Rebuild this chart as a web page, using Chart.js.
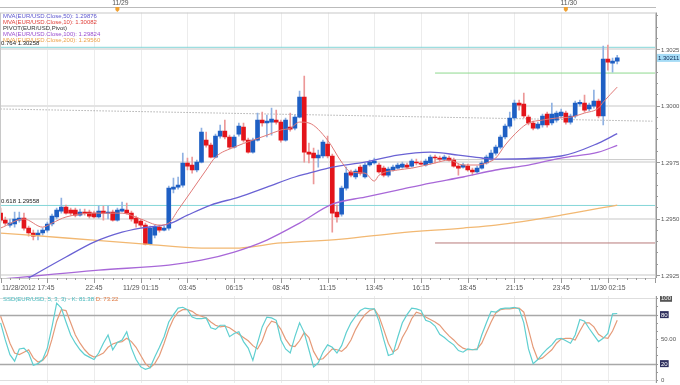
<!DOCTYPE html>
<html>
<head>
<meta charset="utf-8">
<script src="https://cdn.jsdelivr.net/npm/chart.js@4.4.0/dist/chart.umd.min.js"></script>
<style>
  html, body { margin: 0; padding: 0; background: #fff; }
  #wrap { position: relative; width: 680px; height: 385px; overflow: hidden; }
  .box { position: absolute; left: 0; width: 680px; }
</style>
</head>
<body>
<div id="wrap">
  <div class="box" style="top:0;height:296px"><canvas id="priceChart"></canvas></div>
  <div class="box" style="top:296px;height:89px"><canvas id="oscChart"></canvas></div>
</div>
<script>
// 15 minute EUR/USD candles, 11/28 17:45 -> 11/30 02:45
const opens = [1.29524,1.29493,1.29471,1.29476,1.29493,1.29502,1.29458,1.29436,1.29427,1.29436,
  1.29449,1.29476,1.29507,1.29533,1.29551,1.29538,1.29538,1.29515,1.29529,1.29529,
  1.29524,1.29507,1.29533,1.29524,1.29529,1.29493,1.29533,1.29538,1.29524,1.29502,
  1.29489,1.29471,1.29387,1.29427,1.29462,1.29449,1.29458,1.29630,1.29639,1.29648,
  1.29746,1.29737,1.29715,1.29750,1.29847,1.29825,1.29772,1.29865,1.29887,1.29861,
  1.29816,1.29874,1.29905,1.29847,1.29794,1.29847,1.29936,1.29923,1.29927,1.29936,
  1.29927,1.29847,1.29905,1.29900,1.29949,1.30038,1.29794,1.29790,1.29768,1.29777,
  1.29830,1.29777,1.29529,1.29520,1.29635,1.29706,1.29684,1.29728,1.29684,1.29737,
  1.29746,1.29737,1.29723,1.29692,1.29715,1.29723,1.29728,1.29737,1.29732,1.29750,
  1.29746,1.29737,1.29746,1.29772,1.29768,1.29763,1.29768,1.29759,1.29732,1.29728,
  1.29732,1.29715,1.29706,1.29723,1.29746,1.29763,1.29790,1.29816,1.29861,1.29909,
  1.29945,1.30011,1.30007,1.29949,1.29923,1.29900,1.29914,1.29962,1.29923,1.29936,
  1.29954,1.29967,1.29927,1.29954,1.30007,1.30011,1.29985,1.29998,1.30020,1.29954,
  1.30206,1.30188,1.30197];
const highs = [1.29546,1.29507,1.29498,1.29529,1.29529,1.29524,1.29467,1.29449,1.29449,1.29458,
  1.29484,1.29520,1.29546,1.29591,1.29560,1.29546,1.29546,1.29542,1.29542,1.29538,
  1.29533,1.29555,1.29555,1.29555,1.29538,1.29546,1.29573,1.29569,1.29533,1.29511,
  1.29498,1.29480,1.29467,1.29471,1.29471,1.29467,1.29644,1.29679,1.29684,1.29790,
  1.29768,1.29772,1.29759,1.29900,1.29883,1.29834,1.29874,1.29914,1.29936,1.29869,
  1.29869,1.29923,1.29923,1.29856,1.29856,1.29967,1.29971,1.29958,1.29989,1.29980,
  1.29936,1.29945,1.29967,1.29958,1.30064,1.30131,1.29834,1.29812,1.29803,1.29847,
  1.29865,1.29785,1.29560,1.29644,1.29728,1.29715,1.29719,1.29737,1.29746,1.29759,
  1.29768,1.29746,1.29732,1.29728,1.29737,1.29746,1.29750,1.29746,1.29763,1.29763,
  1.29754,1.29763,1.29781,1.29781,1.29777,1.29781,1.29777,1.29768,1.29741,1.29746,
  1.29741,1.29723,1.29732,1.29754,1.29781,1.29803,1.29825,1.29869,1.29918,1.29971,
  1.30024,1.30024,1.30055,1.29958,1.29931,1.29927,1.29962,1.29971,1.30011,1.29976,
  1.29985,1.29976,1.29962,1.30020,1.30024,1.30046,1.30011,1.30069,1.30029,1.30263,
  1.30268,1.30210,1.30223];
const lows = [1.29484,1.29471,1.29462,1.29462,1.29484,1.29449,1.29422,1.29405,1.29405,1.29427,
  1.29440,1.29467,1.29498,1.29524,1.29520,1.29515,1.29507,1.29511,1.29515,1.29502,
  1.29502,1.29502,1.29493,1.29498,1.29489,1.29489,1.29529,1.29520,1.29489,1.29462,
  1.29462,1.29383,1.29383,1.29414,1.29440,1.29445,1.29449,1.29613,1.29630,1.29639,
  1.29715,1.29701,1.29706,1.29746,1.29816,1.29768,1.29768,1.29856,1.29852,1.29808,
  1.29812,1.29865,1.29838,1.29790,1.29790,1.29843,1.29909,1.29861,1.29869,1.29918,
  1.29838,1.29843,1.29887,1.29892,1.29945,1.29750,1.29746,1.29653,1.29728,1.29768,
  1.29768,1.29440,1.29484,1.29511,1.29626,1.29684,1.29675,1.29692,1.29679,1.29732,
  1.29741,1.29701,1.29684,1.29684,1.29710,1.29719,1.29723,1.29723,1.29728,1.29737,
  1.29737,1.29732,1.29741,1.29746,1.29754,1.29759,1.29754,1.29728,1.29692,1.29723,
  1.29710,1.29692,1.29701,1.29719,1.29741,1.29759,1.29781,1.29808,1.29852,1.29900,
  1.29936,1.29980,1.29945,1.29914,1.29892,1.29896,1.29905,1.29905,1.29914,1.29927,
  1.29945,1.29918,1.29918,1.29945,1.29998,1.29971,1.29976,1.29989,1.29945,1.29914,
  1.30157,1.30148,1.30184];
const closes = [1.29493,1.29480,1.29480,1.29498,1.29502,1.29458,1.29436,1.29422,1.29436,1.29449,
  1.29476,1.29511,1.29538,1.29551,1.29524,1.29524,1.29515,1.29529,1.29524,1.29511,
  1.29507,1.29533,1.29524,1.29529,1.29493,1.29538,1.29542,1.29524,1.29498,1.29480,
  1.29471,1.29387,1.29458,1.29462,1.29449,1.29458,1.29635,1.29639,1.29648,1.29746,
  1.29732,1.29715,1.29750,1.29883,1.29825,1.29772,1.29865,1.29887,1.29861,1.29816,
  1.29861,1.29909,1.29847,1.29794,1.29847,1.29936,1.29923,1.29931,1.29940,1.29927,
  1.29847,1.29936,1.29896,1.29949,1.30038,1.29794,1.29785,1.29768,1.29781,1.29838,
  1.29777,1.29524,1.29507,1.29635,1.29701,1.29692,1.29710,1.29701,1.29737,1.29750,
  1.29754,1.29706,1.29692,1.29719,1.29728,1.29737,1.29741,1.29728,1.29754,1.29746,
  1.29741,1.29754,1.29772,1.29768,1.29763,1.29772,1.29759,1.29732,1.29723,1.29737,
  1.29715,1.29706,1.29723,1.29746,1.29772,1.29790,1.29816,1.29861,1.29909,1.29945,
  1.30011,1.30002,1.29954,1.29923,1.29900,1.29918,1.29954,1.29914,1.29962,1.29967,
  1.29971,1.29927,1.29954,1.30011,1.30015,1.29980,1.30002,1.30020,1.29954,1.30206,
  1.30192,1.30197,1.30211];

// moving averages, read at candle indexes
const ma10Idx = [0,5,9,11,14,20,26,30,34,36,38,41,44,46,50,54,57,60,62,64,66,70,73,75,78,80,81,85,88,93,96,99,102,104,106,108,111,113,116,119,122,125,128,129,132];
const ma10Val = [1.29458,1.29498,1.29462,1.29480,1.29507,1.29524,1.29524,1.29498,1.29471,1.29480,1.29538,1.29626,1.29715,1.29772,1.29816,1.29847,1.29869,1.29892,1.29900,1.29927,1.29923,1.29847,1.29750,1.29706,1.29701,1.29666,1.29692,1.29715,1.29723,1.29746,1.29759,1.29737,1.29737,1.29746,1.29768,1.29825,1.29892,1.29923,1.29936,1.29945,1.29949,1.29967,1.29989,1.30015,1.30082];
const ma50Idx = [0,6,14,20,26,30,36,40,45,51,57,63,66,71,78,85,92,98,103,106,120,128,132];
const ma50Val = [1.29165,1.29237,1.29330,1.29396,1.29440,1.29458,1.29476,1.29515,1.29560,1.29595,1.29639,1.29684,1.29701,1.29728,1.29750,1.29781,1.29794,1.29781,1.29768,1.29763,1.29777,1.29834,1.29876];
const ma100Idx = [0,21,36,43,50,57,64,71,78,85,92,99,106,113,120,128,132];
const ma100Val = [1.29232,1.29272,1.29294,1.29316,1.29352,1.29405,1.29480,1.29564,1.29595,1.29626,1.29657,1.29684,1.29715,1.29737,1.29768,1.29794,1.29824];
const ma200Idx = [0,14,31,43,50,60,73,85,99,106,120,132];
const ma200Val = [1.29436,1.29414,1.29387,1.29369,1.29369,1.29392,1.29409,1.29436,1.29458,1.29471,1.29515,1.29560];

// levels
const fibLevels = [1.30258, 1.29558];
const fibLabels = ['0.764 1.30258', '0.618 1.29558'];
const pivotStart = 93;
const pivotLevels = [1.30144, 1.29761, 1.29392];
const pivotColors = ['#8fd98f', '#c8c8c8', '#b87a7a'];
const trendIdx = [0, 139.5];
const trendVal = [1.29985, 1.29931];

// stochastic (5,3,3)
const kVals = [70,49,31,23,38,39,33,18,20,25,39,65,94,88,71,55,45,37,31,28,
  25,33,45,55,37,46,49,59,39,25,16,13,15,28,40,53,71,80,88,89,
  86,77,75,75,76,64,62,67,67,53,57,59,47,39,24,45,65,77,76,73,
  49,38,33,53,70,58,37,16,21,34,43,40,33,42,58,70,78,85,88,87,
  87,72,50,30,32,52,70,80,88,87,85,73,71,66,56,52,47,43,36,34,
  38,37,37,55,70,84,83,87,88,88,89,87,70,38,20,25,32,38,43,50,
  51,48,45,55,74,72,63,55,47,51,57,81,81.38];
const dVals = [78,62,45,33,31,34,37,27,22,24,31,50,72,86,85,70,55,45,37,31,
  28,30,33,40,44,46,47,51,47,40,30,20,15,20,30,45,62,75,83,86,
  86,84,80,78,76,71,67,65,66,64,60,56,52,48,42,38,48,64,72,70,
  62,50,42,41,48,58,52,35,25,26,32,38,37,35,40,49,62,72,80,85,
  87,78,62,45,34,38,52,62,75,83,81,77,74,71,67,60,54,49,43,39,
  37,37,38,45,58,71,82,86,87,87,88,88,83,62,40,25,27,32,37,45,
  50,51,51,49,60,70,70,65,56,52,51,60,73.22];

// axes
const xMin = -0.13, xMax = 140.3;
const gridIdx = [10,20,30,40,50,60,70,80,90,100,110,120,130,140];
const timeIdx = [0,20,30,40,50,60,70,80,90,100,110,120,130];
const timeLabels = ['11/28/2012 17:45','22:45','11/29 01:15','03:45','06:15','08:45','11:15','13:45','16:15','18:45','21:15','23:45','11/30 02:15'];
const dayIdx = [25, 121];
const dayLabels = ['11/29', '11/30'];
const priceTicks = [1.2925, 1.2950, 1.2975, 1.3000, 1.3025];
const priceLabels = ['1.2925', '1.2950', '1.2975', '1.3000', '1.3025'];
const oscTicks = [100, 80, 50, 20, 0];
const oscLabels = ['100', '80', '50.00', '20', '0'];

const legendLines = [
  ['MVA(EUR/USD.Close,50): 1.29876', '#5b55cf'],
  ['MVA(EUR/USD.Close,10): 1.30082', '#e0403a'],
  ['PIVOT(EUR/USD,Pivot)', '#333'],
  ['MVA(EUR/USD.Close,100): 1.29824', '#9a4fd0'],
  ['MVA(EUR/USD.Close,200): 1.29560', '#eea24a']
];

const FONT = '6px "Liberation Sans", Arial, sans-serif';
const AXFONT = '6.8px "Liberation Sans", Arial, sans-serif';
const bull = opens.map((o, i) => closes[i] >= o);
const pts = (idx, val) => idx.map((x, i) => ({x: x, y: val[i]}));

function vGrid(chart) {
  const {ctx, chartArea: a, scales: {x}} = chart;
  ctx.strokeStyle = '#ececec';
  ctx.lineWidth = 1;
  gridIdx.forEach(i => {
    const px = Math.round(x.getPixelForValue(i)) + 0.5;
    ctx.beginPath(); ctx.moveTo(px, a.top); ctx.lineTo(px, a.bottom); ctx.stroke();
  });
}

const priceDecor = {
  id: 'priceDecor',
  beforeDatasetsDraw(chart) {
    const {ctx, chartArea: a, scales: {y}} = chart;
    ctx.save();
    vGrid(chart);
    ctx.strokeStyle = '#e3e3e3';
    ctx.lineWidth = 2;
    priceTicks.forEach(p => {
      const py = Math.round(y.getPixelForValue(p));
      ctx.beginPath(); ctx.moveTo(a.left, py); ctx.lineTo(a.right, py); ctx.stroke();
    });
    ctx.restore();
  },
  afterDraw(chart) {
    const {ctx, chartArea: a, scales: {x, y}} = chart;
    ctx.save();
    // frame
    ctx.strokeStyle = '#c8c8c8';
    ctx.lineWidth = 1;
    ctx.strokeRect(a.left + 0.5, a.top + 0.5, a.right - a.left - 1, a.bottom - a.top);
    ctx.strokeStyle = '#999';
    ctx.beginPath(); ctx.moveTo(a.right + 0.5, a.top); ctx.lineTo(a.right + 0.5, a.bottom); ctx.stroke();

    // legend
    ctx.font = FONT;
    ctx.textBaseline = 'middle';
    ctx.textAlign = 'left';
    legendLines.forEach((l, i) => {
      ctx.fillStyle = l[1];
      ctx.fillText(l[0], 3, 16 + i * 6);
    });
    ctx.fillStyle = '#222';
    fibLevels.forEach((p, i) => {
      ctx.fillText(fibLabels[i], 1, y.getPixelForValue(p) - 4);
    });

    // right axis
    ctx.strokeStyle = '#999';
    for (let p = 1.2925; p <= 1.3041; p += 0.0005) {
      const py = Math.round(y.getPixelForValue(p)) + 0.5;
      ctx.beginPath(); ctx.moveTo(a.right, py); ctx.lineTo(a.right + 2, py); ctx.stroke();
    }
    ctx.fillStyle = '#555';
    priceTicks.forEach((p, i) => {
      const py = y.getPixelForValue(p);
      ctx.beginPath(); ctx.moveTo(a.right, Math.round(py) + 0.5); ctx.lineTo(a.right + 4, Math.round(py) + 0.5); ctx.stroke();
      ctx.fillText(priceLabels[i], a.right + 5, py + 1);
    });
    // last price
    const last = closes[closes.length - 1];
    const ly = y.getPixelForValue(last);
    ctx.fillStyle = '#a6dcf6';
    ctx.fillRect(a.right + 1, ly - 4, 23, 8);
    ctx.fillStyle = '#0d2a55';
    ctx.fillText(last.toFixed(5), a.right + 2, ly + 0.5);

    // bottom time axis
    ctx.strokeStyle = '#999';
    for (let i = 0; i <= 140; i += 2) {
      const px = Math.round(x.getPixelForValue(i)) + 0.5;
      const len = i % 10 === 0 ? 5 : 2;
      ctx.beginPath(); ctx.moveTo(px, a.bottom); ctx.lineTo(px, a.bottom + len); ctx.stroke();
    }
    ctx.font = AXFONT;
    ctx.fillStyle = '#555';
    timeIdx.forEach((i, k) => {
      const px = x.getPixelForValue(i);
      ctx.textAlign = k === 0 ? 'left' : 'center';
      ctx.fillText(timeLabels[k], k === 0 ? 2 : px, a.bottom + 10);
    });

    // top date axis
    ctx.strokeStyle = '#bbb';
    ctx.beginPath(); ctx.moveTo(0, 7.5); ctx.lineTo(a.right, 7.5); ctx.stroke();
    ctx.textAlign = 'center';
    dayIdx.forEach((i, k) => {
      const px = x.getPixelForValue(i);
      ctx.fillStyle = '#555';
      ctx.fillText(dayLabels[k], px + 3, 3.5);
      ctx.fillStyle = '#f0a030';
      ctx.beginPath();
      ctx.moveTo(px - 2, 7); ctx.lineTo(px + 2, 7); ctx.lineTo(px + 2, 10);
      ctx.lineTo(px, 12); ctx.lineTo(px - 2, 10); ctx.closePath(); ctx.fill();
    });
    ctx.restore();
  }
};

const hLine = (x0, x1, p, color, order, dash) => ({
  type: 'line', data: [{x: x0, y: p}, {x: x1, y: p}], borderColor: color, borderWidth: 1,
  borderDash: dash || [], pointRadius: 0, order: order
});
const maLine = (idx, val, color, w) => ({
  type: 'line', data: pts(idx, val), borderColor: color, borderWidth: w, pointRadius: 0,
  cubicInterpolationMode: 'monotone', order: 0
});

const priceDatasets = [
  maLine(ma10Idx, ma10Val, '#e07a78', 1),
  maLine(ma50Idx, ma50Val, '#6a62d4', 1.3),
  maLine(ma100Idx, ma100Val, '#a868d8', 1.3),
  maLine(ma200Idx, ma200Val, '#f2b872', 1.3),
  {type: 'bar', data: opens.map((o, i) => ({x: i, y: [o, closes[i]]})),
   backgroundColor: bull.map(b => b ? '#1e5fc4' : '#e3141a'),
   barThickness: 4, minBarLength: 1, grouped: false, order: 1},
  {type: 'bar', data: highs.map((h, i) => ({x: i, y: [lows[i], h]})),
   backgroundColor: bull.map(b => b ? '#8fb1e2' : '#ec9898'),
   barThickness: 1, grouped: false, order: 2},
  hLine(xMin, xMax, fibLevels[0], '#84d6d8', 3),
  hLine(xMin, xMax, fibLevels[1], '#84d6d8', 3),
  {type: 'line', data: pts(trendIdx, trendVal), borderColor: '#888', borderWidth: 1,
   borderDash: [1, 2], pointRadius: 0, order: 3}
].concat(pivotLevels.map((p, i) => hLine(pivotStart, xMax, p, pivotColors[i], 3)));

new Chart(document.getElementById('priceChart'), {
  type: 'bar',
  data: {datasets: priceDatasets},
  options: {
    responsive: true,
    maintainAspectRatio: false,
    animation: false,
    layout: {padding: {left: 0, right: 24, top: 12.5, bottom: 18}},
    plugins: {legend: {display: false}, tooltip: {enabled: false}},
    scales: {
      x: {type: 'linear', min: xMin, max: xMax, offset: false, display: false},
      y: {type: 'linear', min: 1.29237, max: 1.30412, display: false}
    }
  },
  plugins: [priceDecor]
});

// oscillator panel
const oscDecor = {
  id: 'oscDecor',
  beforeDatasetsDraw(chart) {
    const {ctx, chartArea: a, scales: {y}} = chart;
    ctx.save();
    vGrid(chart);
    oscTicks.forEach(v => {
      const py = Math.round(y.getPixelForValue(v)) + 0.5;
      if (v === 50) return;
      ctx.strokeStyle = (v === 80 || v === 20) ? '#a8a8a8' : '#dedede';
      ctx.lineWidth = (v === 80 || v === 20) ? 1.5 : 1;
      ctx.beginPath(); ctx.moveTo(a.left, py); ctx.lineTo(a.right, py); ctx.stroke();
    });
    ctx.restore();
  },
  afterDraw(chart) {
    const {ctx, chartArea: a, scales: {y}} = chart;
    ctx.save();
    ctx.strokeStyle = '#999';
    ctx.lineWidth = 1;
    ctx.beginPath(); ctx.moveTo(a.right + 0.5, 0); ctx.lineTo(a.right + 0.5, a.bottom); ctx.stroke();
    for (let v = 0; v <= 100; v += 10) {
      const py = Math.round(y.getPixelForValue(v)) + 0.5;
      ctx.beginPath(); ctx.moveTo(a.right, py); ctx.lineTo(a.right + 2, py); ctx.stroke();
    }
    ctx.font = FONT;
    ctx.textBaseline = 'middle';
    ctx.textAlign = 'left';
    oscTicks.forEach((v, i) => {
      const py = y.getPixelForValue(v);
      const boxed = v === 100 || v === 80 || v === 20;
      if (boxed) {
        const w = ctx.measureText(oscLabels[i]).width + 2;
        ctx.fillStyle = v === 100 ? '#555' : '#2e2f5e';
        ctx.fillRect(a.right + 4, py - 3.5, w, 7);
        ctx.fillStyle = '#fff';
      } else {
        ctx.fillStyle = '#555';
      }
      ctx.fillText(oscLabels[i], a.right + 5, py + 0.5);
    });
    ctx.fillStyle = '#45b8bc';
    const t1 = 'SSD(EUR/USD, 5, 3, 3) - K: ' + kVals[kVals.length - 1].toFixed(2) + ' ';
    ctx.fillText(t1, 3, 3);
    ctx.fillStyle = '#e07840';
    ctx.fillText('D: ' + dVals[dVals.length - 1].toFixed(2), 3 + ctx.measureText(t1).width, 3);
    ctx.restore();
  }
};

new Chart(document.getElementById('oscChart'), {
  type: 'line',
  data: {
    datasets: [
      {data: kVals.map((v, i) => ({x: i, y: v})), borderColor: '#5fcfd0', borderWidth: 1.2, pointRadius: 0, tension: 0},
      {data: dVals.map((v, i) => ({x: i, y: v})), borderColor: '#e59a78', borderWidth: 1.2, pointRadius: 0, tension: 0}
    ]
  },
  options: {
    responsive: true,
    maintainAspectRatio: false,
    animation: false,
    layout: {padding: {left: 0, right: 24, top: 0, bottom: 2}},
    plugins: {legend: {display: false}, tooltip: {enabled: false}},
    scales: {
      x: {type: 'linear', min: xMin, max: xMax, display: false},
      y: {type: 'linear', min: -3.7, max: 102.8, display: false}
    }
  },
  plugins: [oscDecor]
});
</script>
</body>
</html>
